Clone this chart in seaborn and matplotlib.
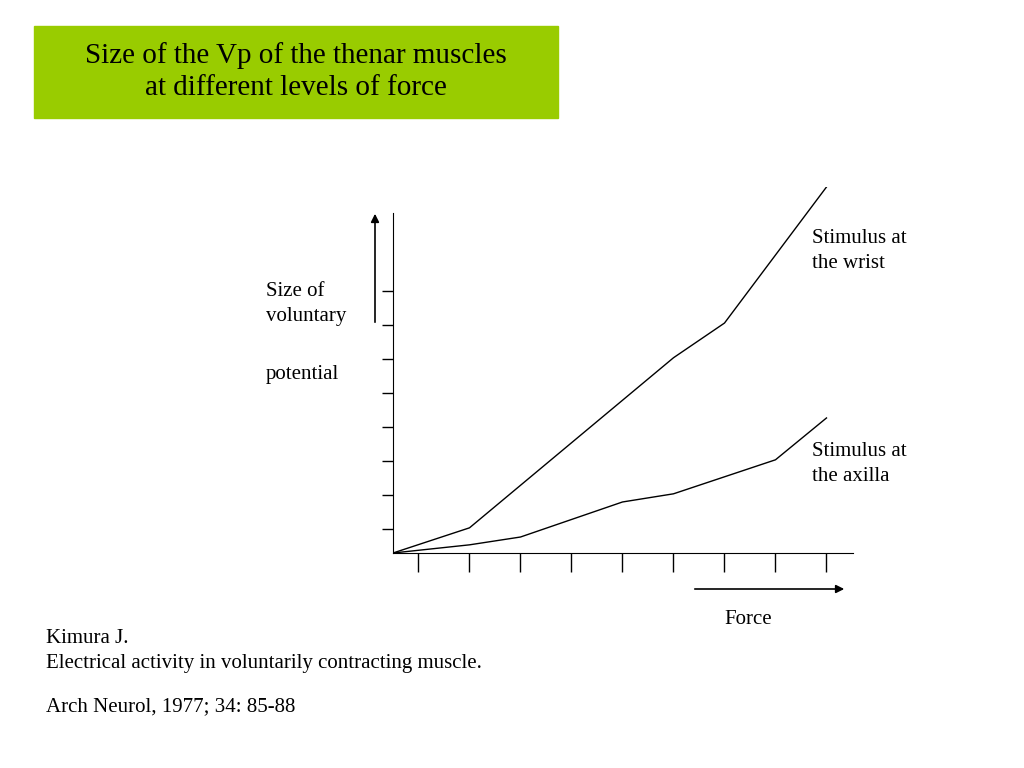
import matplotlib
matplotlib.use("Agg")
import matplotlib.pyplot as plt
from matplotlib.patches import Rectangle, FancyArrowPatch
import pandas as pd
import seaborn as sns

plt.rcParams["font.family"] = "Liberation Serif"

# Data (arbitrary units)
WRIST_X = [0, 1.5, 5.5, 6.5, 8.5]
WRIST_Y = [0, 0.74, 5.74, 6.76, 10.76]
AXILLA_X = [0, 1.5, 2.5, 4.5, 5.5, 7.5, 8.5]
AXILLA_Y = [0, 0.24, 0.47, 1.5, 1.74, 2.74, 3.97]
X_TICKS = [0.5, 1.5, 2.5, 3.5, 4.5, 5.5, 6.5, 7.5, 8.5]
Y_TICKS = [0.7, 1.7, 2.7, 3.7, 4.7, 5.7, 6.7, 7.7]

fig = plt.figure(figsize=(10.24, 7.68), dpi=100)

# Title box
fig.patches.append(Rectangle((34 / 1024, 1 - 118 / 768), 524 / 1024, 92 / 768,
                             transform=fig.transFigure, color="#99cc00", zorder=0))
fig.text(296 / 1024, 1 - 72 / 768, "Size of the Vp of the thenar muscles\nat different levels of force",
         ha="center", va="center", fontsize=21, linespacing=1.3)

ax = fig.add_axes([393 / 1024, 215 / 768, 460 / 1024, 366 / 768])
wrist = pd.DataFrame({"x": WRIST_X, "y": WRIST_Y})
axilla = pd.DataFrame({"x": AXILLA_X, "y": AXILLA_Y})
sns.lineplot(data=wrist, x="x", y="y", color="black", lw=1, ax=ax)
sns.lineplot(data=axilla, x="x", y="y", color="black", lw=1, ax=ax)

ax.set_xlim(0, 9.02)
ax.set_ylim(0, 10.76)
ax.set_xlabel("")
ax.set_ylabel("")
for s in ["top", "right"]:
    ax.spines[s].set_visible(False)
ax.spines["left"].set_bounds(0, 10)
ax.set_xticks(X_TICKS)
ax.set_yticks(Y_TICKS)
ax.set_xticklabels([])
ax.set_yticklabels([])
ax.tick_params(axis="x", direction="out", length=14, width=1)
ax.tick_params(axis="y", direction="out", length=8, width=1)

# Arrows
fig.patches.append(FancyArrowPatch((375 / 1024, 1 - 325 / 768), (375 / 1024, 1 - 211 / 768),
                                   transform=fig.transFigure, arrowstyle="-|>", mutation_scale=12,
                                   color="black", lw=1.2))
fig.patches.append(FancyArrowPatch((692 / 1024, 1 - 589 / 768), (847 / 1024, 1 - 589 / 768),
                                   transform=fig.transFigure, arrowstyle="-|>", mutation_scale=12,
                                   color="black", lw=1.2))

fs = 15
fig.text(266 / 1024, 1 - 304 / 768, "Size of\nvoluntary", fontsize=fs, va="center", linespacing=1.4)
fig.text(266 / 1024, 1 - 374 / 768, "potential", fontsize=fs, va="center")
fig.text(812 / 1024, 1 - 251 / 768, "Stimulus at\nthe wrist", fontsize=fs, va="center", linespacing=1.4)
fig.text(812 / 1024, 1 - 464 / 768, "Stimulus at\nthe axilla", fontsize=fs, va="center", linespacing=1.4)
fig.text(748 / 1024, 1 - 619 / 768, "Force", fontsize=fs, va="center", ha="center")
fig.text(46 / 1024, 1 - 651 / 768, "Kimura J.\nElectrical activity in voluntarily contracting muscle.",
         fontsize=fs, va="center", linespacing=1.4)
fig.text(46 / 1024, 1 - 707 / 768, "Arch Neurol, 1977; 34: 85-88", fontsize=fs, va="center")

fig.savefig("out.png", dpi=100)
